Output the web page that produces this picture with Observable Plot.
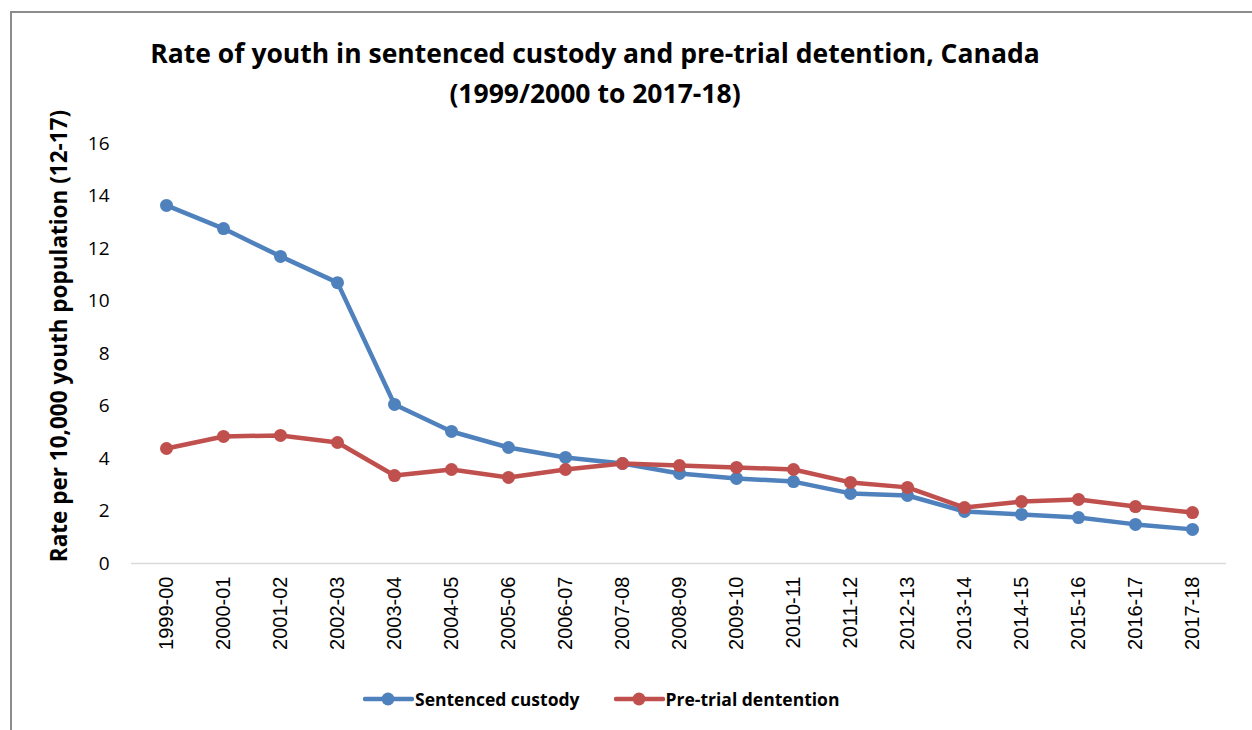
<!DOCTYPE html>
<html><head><meta charset="utf-8">
<script src="https://cdn.jsdelivr.net/npm/d3@7"></script>
<script src="https://cdn.jsdelivr.net/npm/@observablehq/plot@0.6"></script>
<style>
html,body{margin:0;padding:0;background:#fff;font-family:"Open Sans",sans-serif;color:#000;overflow:hidden;}
#wrap{position:relative;width:1252px;height:730px;overflow:hidden;}
#frame{position:absolute;left:10px;top:11px;width:1300px;height:800px;border-top:2px solid #8c8c8c;border-left:2px solid #8c8c8c;}
#title{position:absolute;left:0;top:33px;width:1190px;text-align:center;font-weight:bold;font-size:26.5px;line-height:40px;}
#ylabel{position:absolute;left:58px;top:336px;transform:translate(-50%,-50%) rotate(-90deg);white-space:nowrap;font-weight:bold;font-size:22.5px;}
#chart{position:absolute;left:0;top:0;}
#legend{position:absolute;top:685px;left:363px;display:flex;align-items:center;font-weight:bold;font-size:17.5px;line-height:28px;}
.item{display:flex;align-items:center;}
.item svg{display:block;}
</style></head>
<body>
<div id="wrap">
  <div id="frame"></div>
  <div id="title">Rate of youth in sentenced custody and pre-trial detention, Canada<br>(1999/2000 to 2017-18)</div>
  <div id="chart"></div>
  <div id="ylabel">Rate per 10,000 youth population (12-17)</div>
  <div id="legend"></div>
</div>
<script>
const categories = ["1999-00","2000-01","2001-02","2002-03","2003-04","2004-05","2005-06","2006-07","2007-08","2008-09","2009-10","2010-11","2011-12","2012-13","2013-14","2014-15","2015-16","2016-17","2017-18"];
const sentencedCustody = [13.64,12.76,11.70,10.70,6.06,5.03,4.42,4.04,3.81,3.43,3.24,3.12,2.67,2.59,1.98,1.87,1.75,1.49,1.30];
const pretrialDetention = [4.38,4.84,4.88,4.61,3.35,3.58,3.28,3.58,3.81,3.73,3.66,3.58,3.09,2.90,2.13,2.36,2.44,2.17,1.94];
const seriesNames = ["Sentenced custody","Pre-trial dentention"];
const seriesColors = ["#4f81bd","#c0504d"];
const yTicks = [0,2,4,6,8,10,12,14,16];

const sent = categories.map((c,i)=>({cat:c, v:sentencedCustody[i]}));
const pre = categories.map((c,i)=>({cat:c, v:pretrialDetention[i]}));

const chart = Plot.plot({
  width:1252, height:660,
  marginLeft:131, marginRight:26, marginTop:143, marginBottom:97,
  x:{type:"point", domain:categories, padding:0.5, label:null},
  y:{domain:[0,16], label:null},
  style:{fontFamily:"'Open Sans', sans-serif", color:"#000", background:"transparent", overflow:"visible"},
  marks:[
    Plot.ruleY([0],{stroke:"#d9d9d9", strokeWidth:1.5}),
    Plot.axisY({ticks:yTicks, tickSize:0, tickPadding:22, fontSize:19, label:null}),
    Plot.axisX({tickSize:0, tickRotate:-90, tickPadding:13, fontSize:20, fontFamily:"'Liberation Sans', Arial, sans-serif", label:null}),
    Plot.line(sent,{x:"cat", y:"v", stroke:seriesColors[0], strokeWidth:4.5}),
    Plot.dot(sent,{x:"cat", y:"v", r:6.5, fill:seriesColors[0]}),
    Plot.line(pre,{x:"cat", y:"v", stroke:seriesColors[1], strokeWidth:4.5}),
    Plot.dot(pre,{x:"cat", y:"v", r:6.5, fill:seriesColors[1]})
  ]
});
document.getElementById("chart").appendChild(chart);

const legend = document.getElementById("legend");
seriesNames.forEach((name,i)=>{
  const item = document.createElement("div");
  item.className = "item";
  item.style.marginRight = i===0 ? "34px" : "0";
  item.innerHTML = `<svg width="51" height="16"><line x1="2" y1="8" x2="49" y2="8" stroke="${seriesColors[i]}" stroke-width="4.5" stroke-linecap="round"/><circle cx="25" cy="8" r="6.5" fill="${seriesColors[i]}"/></svg><span style="margin-left:1px">${name}</span>`;
  legend.appendChild(item);
});
</script>
</body></html>
